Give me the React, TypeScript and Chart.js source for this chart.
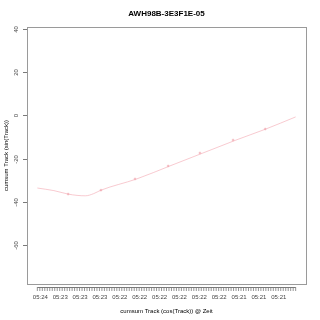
import React, { useEffect, useRef } from "react";
import { Chart, registerables } from "chart.js";

Chart.register(...registerables);

const TITLE = "AWH98B-3E3F1E-05";
const X_TITLE = "cumsum Track (cos(Track)) @ Zeit";
const Y_TITLE = "cumsum Track (sin(Track))";

const curveX = [0, 5, 9.3, 12, 14.5, 17, 19.2, 30, 40, 50, 60, 69, 78];
const curveY = [-33.6, -34.8, -36.4, -37.0, -37.2, -36.2, -34.6, -29.4, -23.4, -17.4, -11.4, -6.3, -0.7];
const markerX = [9.3, 19.2, 29.5, 39.5, 49.1, 59.1, 68.8];
const markerY = [-36.4, -34.6, -29.4, -23.4, -17.4, -11.4, -6.3];

const xTickCount = 104;
const xTickStep = 0.75;
const xLabelStep = 6;
const xLabels = ["05:24", "05:23", "05:23", "05:23", "05:22", "05:22", "05:22", "05:22", "05:22", "05:22", "05:21", "05:21", "05:21"];
const yTicks = [-60, -40, -20, 0, 20, 40];

const X_MIN = -3.12;
const X_MAX = 81.12;
const Y_MIN = -78;
const Y_MAX = 40.9;

const overlay = {
  id: "rOverlay",
  afterDraw(chart: any) {
    const ctx = chart.ctx;
    const area = chart.chartArea;
    const xs = chart.scales.x;
    const ys = chart.scales.y;
    ctx.save();
    ctx.strokeStyle = "#9a9a9a";
    ctx.lineWidth = 1;
    ctx.strokeRect(area.left + 0.5, area.top + 0.5, area.right - area.left, area.bottom - area.top);
    ctx.strokeStyle = "#7a7a7a";
    ctx.fillStyle = "#444";
    ctx.font = "6px 'Liberation Sans', Arial, sans-serif";
    ctx.textAlign = "center";
    ctx.textBaseline = "middle";
    for (const v of yTicks) {
      const py = Math.round(ys.getPixelForValue(v)) + 0.5;
      ctx.beginPath();
      ctx.moveTo(area.left - 4, py);
      ctx.lineTo(area.left, py);
      ctx.stroke();
      ctx.save();
      ctx.translate(area.left - 11, py);
      ctx.rotate(-Math.PI / 2);
      ctx.fillText(String(v), 0, 0);
      ctx.restore();
    }
    const y0 = area.bottom + 3;
    ctx.beginPath();
    ctx.moveTo(xs.getPixelForValue(0), y0 + 0.5);
    ctx.lineTo(xs.getPixelForValue(xTickCount * xTickStep), y0 + 0.5);
    ctx.stroke();
    ctx.lineWidth = 0.8;
    for (let i = 0; i <= xTickCount; i++) {
      const px = xs.getPixelForValue(i * xTickStep);
      ctx.beginPath();
      ctx.moveTo(px, y0);
      ctx.lineTo(px, y0 + 4);
      ctx.stroke();
    }
    ctx.textBaseline = "top";
    xLabels.forEach((lab, k) => {
      const px = xs.getPixelForValue(k * xLabelStep);
      ctx.fillText(lab, px + 3, area.bottom + 10);
    });
    ctx.fillStyle = "#000";
    ctx.font = "bold 8px 'Liberation Sans', Arial, sans-serif";
    ctx.textBaseline = "middle";
    ctx.fillText(TITLE, (area.left + area.right) / 2, 14);
    ctx.font = "6px 'Liberation Sans', Arial, sans-serif";
    ctx.fillText(X_TITLE, (area.left + area.right) / 2, 311);
    ctx.save();
    ctx.translate(6, (area.top + area.bottom) / 2);
    ctx.rotate(-Math.PI / 2);
    ctx.fillText(Y_TITLE, 0, 0);
    ctx.restore();
    ctx.restore();
  },
};

export default function App() {
  const ref = useRef<HTMLCanvasElement>(null);
  useEffect(() => {
    document.body.style.margin = "0";
    const chart = new Chart(ref.current as HTMLCanvasElement, {
      type: "scatter",
      data: {
        datasets: [
          {
            data: curveX.map((x, i) => ({ x, y: curveY[i] })),
            showLine: true,
            borderColor: "rgba(244,165,175,0.85)",
            borderWidth: 0.7,
            pointRadius: 0,
            tension: 0.4,
            cubicInterpolationMode: "monotone",
          } as any,
          {
            data: markerX.map((x, i) => ({ x, y: markerY[i] })),
            showLine: false,
            pointStyle: "cross",
            pointRadius: 1.3,
            borderColor: "rgba(235,140,150,0.85)",
            borderWidth: 0.7,
          } as any,
        ],
      },
      options: {
        animation: false,
        responsive: false,
        events: [],
        layout: { padding: { left: 0, right: 14, top: 27, bottom: 0 } },
        plugins: { legend: { display: false }, tooltip: { enabled: false }, title: { display: false } },
        scales: {
          x: {
            type: "linear",
            min: X_MIN,
            max: X_MAX,
            grid: { display: false },
            border: { display: false },
            ticks: { display: false },
            afterFit: (s: any) => { s.height = 36; },
          },
          y: {
            type: "linear",
            min: Y_MIN,
            max: Y_MAX,
            grid: { display: false },
            border: { display: false },
            ticks: { display: false },
            afterFit: (s: any) => { s.width = 27; },
          },
        },
      },
      plugins: [overlay],
    });
    return () => chart.destroy();
  }, []);
  return <canvas ref={ref} width={320} height={320} style={{ display: "block" }} />;
}
